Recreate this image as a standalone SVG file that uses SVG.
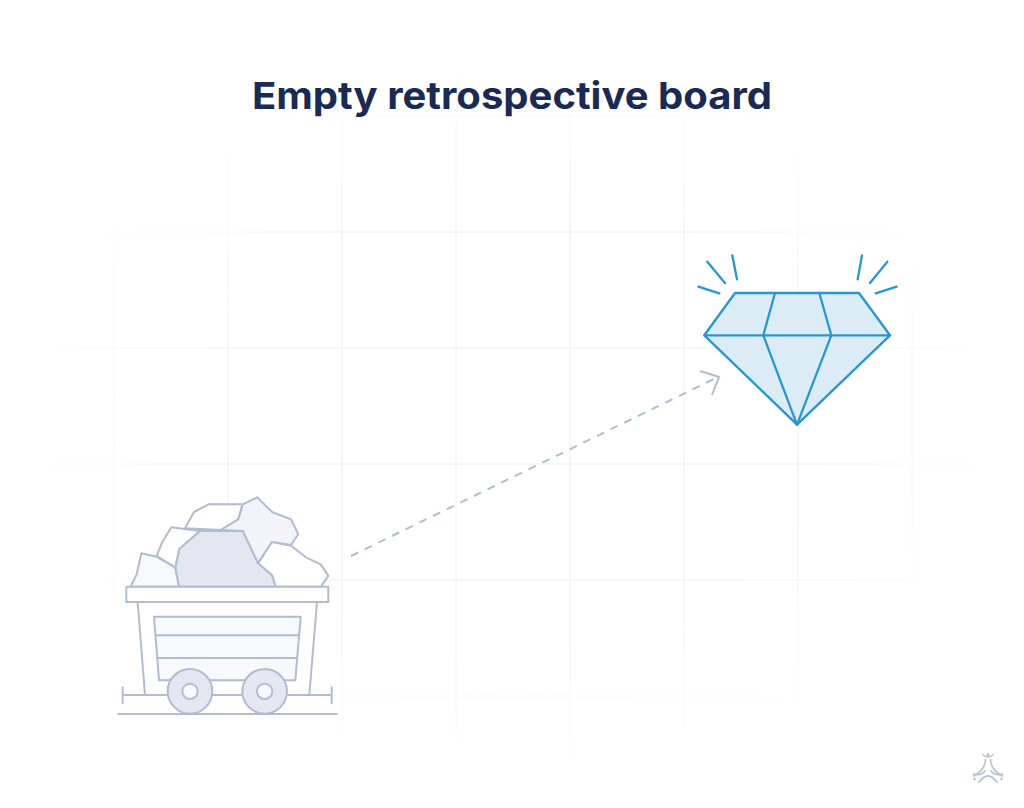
<svg xmlns="http://www.w3.org/2000/svg" width="1024" height="808" viewBox="0 0 1024 808">
<style>
.g{stroke:#eff0f4;stroke-width:1;fill:none}
.c{stroke:#b4bad0;stroke-width:6;stroke-linejoin:round;stroke-linecap:round}
.d{stroke:#2a96d0;stroke-width:2.300;stroke-linejoin:round;stroke-linecap:round;fill:none}
.l{stroke:#bcc3d6;fill:none;stroke-linecap:round}
</style>
<defs>
<radialGradient id="fade" gradientUnits="userSpaceOnUse" cx="512" cy="420" r="510" gradientTransform="translate(512 420) scale(1 0.72) translate(-512 -420)">
<stop offset="0.6" stop-color="#fff"/><stop offset="1" stop-color="#000"/>
</radialGradient>
<mask id="m" maskUnits="userSpaceOnUse" x="0" y="0" width="1024" height="808"><rect width="1024" height="808" fill="url(#fade)"/></mask>
</defs>
<rect width="1024" height="808" fill="#fff"/>
<g id="grid" class="g" mask="url(#m)">
<path d="M114 0V808M228 0V808M342 0V808M456 0V808M570 0V808M684 0V808M798 0V808M912 0V808"/>
<path d="M0 116H1024M0 232H1024M0 348H1024M0 464H1024M0 580H1024M0 696H1024"/>
</g>
<text id="title" x="512" y="109" text-anchor="middle" font-family="Inter, 'Open Sans', sans-serif" font-weight="700" font-size="37.500" fill="#1b2a52" textLength="520" lengthAdjust="spacingAndGlyphs">Empty retrospective board</text>
<g id="connectors">
<path d="M351 556L718 377" fill="none" stroke="#b6bbd2" stroke-width="2" stroke-dasharray="8 7.200"/>
<path d="M700 371L719 377L712 395" fill="none" stroke="#b6bbd2" stroke-width="2"/>
</g>
<g id="cart" transform="translate(100 480) scale(.33333)">
<path class="c" fill="#fff" d="M255 145L282 96L326 73L428 73L415 118L362 150Z"/>
<path class="c" fill="#f2f4f9" d="M428 73L472 52L516 96L573 118L595 162L573 195L516 186L474 250L428 153L362 150L415 118Z"/>
<path class="c" fill="#fff" d="M170 228L185 190L214 142L300 153L238 207L226 263Z"/>
<path class="c" fill="#f8f9fc" d="M92 320L110 283L124 220L170 230L226 263L237 320Z"/>
<path class="c" fill="#fff" d="M474 250L516 186L573 197L618 232L662 253L685 287L663 320L527 320L516 286Z"/>
<path class="c" fill="#e4e7ef" d="M237 320L226 263L238 207L300 153L428 153L474 250L516 286L527 320Z"/>
<path class="c" fill="#fff" d="M113 366L135 645L628 645L651 366Z"/>
<rect class="c" fill="#fff" x="79" y="320" width="606" height="46"/>
<path class="c" fill="#f8f9fc" d="M162 410L602 410L586 601L177 601Z"/>
<path class="c" fill="none" d="M167 466H597M172 534H591"/>
<path class="c" fill="none" d="M68 645H695M68 622V670M695 622V670M55 702H710"/>
<circle class="c" fill="#e4e7ef" cx="270" cy="634" r="67"/>
<circle class="c" fill="#f8f9fc" cx="270" cy="634" r="23"/>
<circle class="c" fill="#e4e7ef" cx="494" cy="634" r="67"/>
<circle class="c" fill="#f8f9fc" cx="494" cy="634" r="23"/>
</g>
<g id="diamond">
<path class="d" style="fill:#dbecf6" d="M735 293L859 293L890 335.300L797 424.700L704.300 335.300Z"/>
<path class="d" d="M704.300 335.300H890M775 293L763.300 335.300M819.300 293L831.300 335.300M763.300 335.300L797 424.700M831.300 335.300L797 424.700"/>
<path class="d" d="M707.300 261.700L725 283M732.300 255.300L737 279.300M698.300 286.700L719.300 293.300M862 255.300L857.700 279.300M887.300 261.700L870 283M896.700 286.700L875.700 293.300"/>
</g>
<g id="logo">
<circle cx="988" cy="755" r="1.800" fill="#bcc3d6"/>
<path class="l" stroke-width="1.500" d="M983 754.500Q988 760 993 754.500"/>
<path class="l" stroke-width="1.800" d="M985.500 760Q985 770 974 776M990.500 760Q991 770 1002 776"/>
<path class="l" stroke-width="1.800" d="M973.500 774Q981 776 985 771M1002.500 774Q995 776 991 771M979 782Q988 770 997 782"/>
<circle cx="974.500" cy="779" r="1.300" fill="#bcc3d6"/>
<circle cx="1001.500" cy="779" r="1.300" fill="#bcc3d6"/>
</g>
</svg>
